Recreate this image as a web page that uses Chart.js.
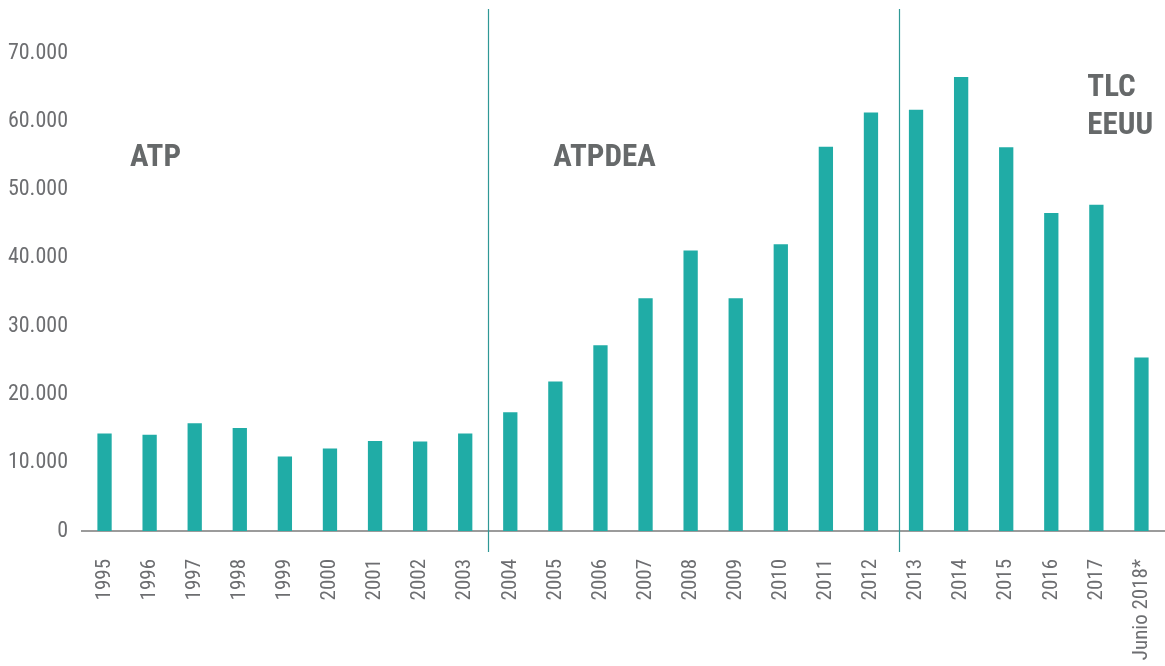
<!DOCTYPE html>
<html>
<head>
<meta charset="utf-8">
<script src="https://cdn.jsdelivr.net/npm/chart.js@4.4.0/dist/chart.umd.min.js"></script>
<style>
  html, body { margin: 0; padding: 0; background: #fff; }
</style>
</head>
<body>
<canvas id="chart" width="1165" height="666"></canvas>
<script>
// years on the x axis
const years = ['1995', '1996', '1997', '1998', '1999', '2000', '2001', '2002', '2003',
  '2004', '2005', '2006', '2007', '2008', '2009', '2010', '2011', '2012',
  '2013', '2014', '2015', '2016', '2017', 'Junio 2018*'];

// bar values
const values = [14300, 14100, 15800, 15100, 10900, 12100, 13200, 13100, 14300,
  17400, 21900, 27200, 34100, 41100, 34100, 42000, 56300, 61300,
  61700, 66500, 56200, 46600, 47800, 25400];

const yTicks = [0, 10000, 20000, 30000, 40000, 50000, 60000, 70000];

// trade agreement periods
const periodNames = ['ATP', 'ATPDEA', 'TLC\nEEUU'];
const periodBreaks = [8.5, 17.63];   // category index where each period ends

const BAR = '#20aca6';
const LINE = '#2f9896';
const TEXT = '#6d6e71';
const LABEL = '#66696a';
const FONT = "'Liberation Sans Narrow', 'Roboto Condensed', 'DejaVu Sans Condensed', Roboto, sans-serif";

const fmt = v => String(v).replace(/\B(?=(\d{3})+(?!\d))/g, '.');

// where the period names sit, in data coordinates
const namePlaces = [
  { x: 1.13, y: 54600, align: 'center' },
  { x: 11.09, y: 54600, align: 'center' },
  { x: 21.8, y: 64900, align: 'left' }
];

const periodsPlugin = {
  id: 'periods',
  afterDraw(chart) {
    const { ctx, scales: { x, y }, chartArea } = chart;
    ctx.save();
    ctx.strokeStyle = LINE;
    ctx.lineWidth = 1.2;
    periodBreaks.forEach(b => {
      const px = Math.round(x.getPixelForValue(b)) + 0.5;
      ctx.beginPath();
      ctx.moveTo(px, 9);
      ctx.lineTo(px, chartArea.bottom + 21);
      ctx.stroke();
    });

    ctx.fillStyle = LABEL;
    ctx.font = 'bold 31px ' + FONT;
    ctx.textBaseline = 'middle';
    periodNames.forEach((name, i) => {
      const p = namePlaces[i];
      ctx.textAlign = p.align;
      const px = x.getPixelForValue(p.x);
      let py = y.getPixelForValue(p.y);
      name.split('\n').forEach(line => {
        ctx.fillText(line, px, py);
        py += 38;
      });
    });
    ctx.restore();
  }
};

new Chart(document.getElementById('chart'), {
  type: 'bar',
  data: {
    labels: years,
    datasets: [{
      data: values,
      backgroundColor: BAR,
      categoryPercentage: 1,
      barPercentage: 0.317
    }]
  },
  options: {
    responsive: false,
    animation: false,
    devicePixelRatio: 1,
    layout: { padding: { top: 19, right: 1, left: 0, bottom: 0 } },
    plugins: { legend: { display: false }, tooltip: { enabled: false } },
    scales: {
      x: {
        grid: { display: false, drawTicks: false },
        border: { display: true, color: '#9b9b9b', width: 2 },
        ticks: {
          autoSkip: false,
          minRotation: 90,
          maxRotation: 90,
          padding: 28,
          color: TEXT,
          font: { family: FONT, size: 21 }
        },
        afterFit: s => {
          s.height = 135;
          s.paddingLeft = 0;
          s.paddingRight = 0;
        }
      },
      y: {
        min: 0,
        max: 75000,
        grid: { display: false, drawTicks: false },
        border: { display: false },
        afterBuildTicks: s => { s.ticks = yTicks.map(v => ({ value: v })); },
        ticks: {
          padding: 14,
          color: TEXT,
          font: { family: FONT, size: 22 },
          callback: v => fmt(v)
        },
        afterFit: s => {
          s.width = 82;
          s.paddingTop = 0;
          s.paddingBottom = 0;
        }
      }
    }
  },
  plugins: [periodsPlugin]
});
</script>
</body>
</html>
